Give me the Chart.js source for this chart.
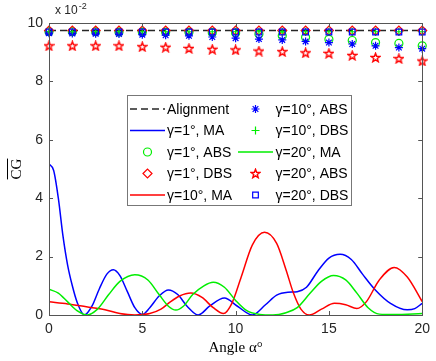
<!DOCTYPE html>
<html>
<head>
<meta charset="utf-8">
<script src="https://cdn.jsdelivr.net/npm/chart.js@4/dist/chart.umd.min.js"></script>
<style>
  html, body { margin: 0; padding: 0; background: #fff; }
  #wrap { width: 436px; height: 361px; }
</style>
</head>
<body>
<div id="wrap"><canvas id="c" width="436" height="361"></canvas></div>
<script>
// ---- data (values in units of 1e-2) ----
const markerAngles = [0, 1.25, 2.5, 3.75, 5, 6.25, 7.5, 8.75, 10, 11.25, 12.5, 13.75, 15, 16.25, 17.5, 18.75, 20];
const alignment    = [9.74, 9.74, 9.74, 9.74, 9.74, 9.74, 9.74, 9.74, 9.74, 9.74, 9.74, 9.74, 9.74, 9.74, 9.74, 9.74, 9.74];
const g1ABS  = [9.70, 9.70, 9.70, 9.69, 9.69, 9.68, 9.68, 9.67, 9.66, 9.62, 9.56, 9.51, 9.44, 9.40, 9.33, 9.30, 9.22];
const g1DBS  = [9.74, 9.74, 9.74, 9.74, 9.74, 9.74, 9.74, 9.74, 9.74, 9.74, 9.74, 9.74, 9.74, 9.74, 9.74, 9.74, 9.74];
const g10ABS = [9.65, 9.64, 9.63, 9.62, 9.60, 9.58, 9.56, 9.52, 9.48, 9.45, 9.42, 9.37, 9.33, 9.28, 9.22, 9.16, 9.12];
const g10DBS = [9.70, 9.70, 9.70, 9.70, 9.70, 9.70, 9.70, 9.70, 9.70, 9.70, 9.70, 9.70, 9.70, 9.70, 9.70, 9.70, 9.70];
const g20ABS = [9.22, 9.22, 9.22, 9.22, 9.19, 9.17, 9.13, 9.10, 9.08, 9.04, 9.02, 8.98, 8.96, 8.89, 8.82, 8.78, 8.70];
const g20DBS = [9.69, 9.69, 9.69, 9.69, 9.69, 9.69, 9.69, 9.69, 9.69, 9.69, 9.69, 9.69, 9.69, 9.69, 9.69, 9.69, 9.69];

const g1MA_x = [0, 0.25, 0.5, 0.75, 1.0, 1.25, 1.5, 1.9, 2.3, 2.7, 3.1, 3.45, 3.8, 4.2, 4.6, 5.0, 5.4, 5.9, 6.4, 6.9, 7.4, 8.0, 8.6, 9.4, 10.1, 10.9, 11.6, 12.2, 12.8, 13.3, 13.8, 14.4, 15.0, 15.6, 16.2, 16.8, 17.5, 18.3, 19.2, 19.6, 20];
const g1MA_y = [5.17, 4.95, 4.0, 2.7, 1.7, 1.0, 0.45, 0.0, 0.3, 0.9, 1.4, 1.55, 1.35, 0.8, 0.25, 0.02, 0.25, 0.65, 0.86, 0.7, 0.3, 0.0, 0.3, 0.58, 0.3, 0.0, 0.35, 0.68, 0.78, 0.8, 0.95, 1.5, 1.95, 2.08, 1.9, 1.4, 0.85, 0.4, 0.18, 0.22, 0.4];

const g10MA_x = [0, 1, 2, 3, 3.8, 4.6, 5.4, 6.0, 6.5, 7.0, 7.6, 8.2, 8.8, 9.35, 9.8, 10.3, 10.9, 11.55, 12.2, 12.7, 13.1, 13.5, 13.95, 14.6, 15.3, 15.9, 16.5, 17.0, 17.7, 18.5, 19.2, 20];
const g10MA_y = [0.45, 0.38, 0.28, 0.18, 0.05, 0.0, 0.05, 0.2, 0.45, 0.65, 0.75, 0.6, 0.25, 0.05, 0.4, 1.3, 2.4, 2.83, 2.45, 1.55, 0.75, 0.2, 0.0, 0.2, 0.4, 0.35, 0.22, 0.45, 1.2, 1.63, 1.3, 0.46];

const g20MA_x = [0, 0.5, 1.0, 1.5, 2.05, 2.6, 3.2, 3.8, 4.6, 5.3, 5.9, 6.4, 6.8, 7.2, 7.7, 8.3, 8.8, 9.4, 10.0, 10.6, 11.3, 12.0, 12.7, 13.3, 14.0, 14.6, 15.25, 15.9, 16.5, 17.1, 17.7, 18.5, 20];
const g20MA_y = [0.88, 0.75, 0.45, 0.15, 0.0, 0.2, 0.7, 1.15, 1.38, 1.2, 0.7, 0.3, 0.17, 0.3, 0.7, 1.0, 1.12, 0.95, 0.5, 0.15, 0.02, 0.0, 0.08, 0.25, 0.75, 1.15, 1.35, 1.2, 0.75, 0.25, 0.03, 0.02, 0.05];

const xTicks = [0, 5, 10, 15, 20];
const yTicks = [0, 2, 4, 6, 8, 10];

// ---- helpers ----
const zip = (xs, ys) => xs.map((x, i) => ({ x: x, y: ys[i] }));
function pentagram(color) {
  const s = 11, c = document.createElement('canvas');
  c.width = s; c.height = s;
  const g = c.getContext('2d');
  g.beginPath();
  for (let i = 0; i < 10; i++) {
    const r = i % 2 ? 1.9 : 4.6;
    const a = -Math.PI / 2 + i * Math.PI / 5;
    g.lineTo(s / 2 + r * Math.cos(a), s / 2 + 0.4 + r * Math.sin(a));
  }
  g.closePath();
  g.strokeStyle = color; g.lineWidth = 1.4; g.stroke();
  return c;
}
const starImg = pentagram('#ff0000');

function lineDS(label, pts, color, dash) {
  return { label, data: pts, borderColor: color, backgroundColor: color, borderWidth: 1.5,
    borderDash: dash || [], pointRadius: 0, showLine: true, cubicInterpolationMode: 'monotone', fill: false };
}
function markDS(label, ys, color, style, radius) {
  return { label, data: zip(markerAngles, ys), borderColor: color, backgroundColor: 'rgba(0,0,0,0)',
    borderWidth: 1.2, pointStyle: style, pointRadius: radius || 4, showLine: false, clip: false };
}

const datasets = [
  lineDS('Alignment', zip(markerAngles, alignment), '#262626', [7, 4]),
  lineDS('\u03B3=1\u00B0, MA', zip(g1MA_x, g1MA_y), '#0000ff'),
  markDS('\u03B3=1\u00B0, ABS', g1ABS, '#00ee00', 'circle', 4),
  markDS('\u03B3=1\u00B0, DBS', g1DBS, '#ff0000', 'rectRot', 4.5),
  lineDS('\u03B3=10\u00B0, MA', zip(g10MA_x, g10MA_y), '#ff0000'),
  markDS('\u03B3=10\u00B0, ABS', g10ABS, '#0000ff', 'star', 4),
  markDS('\u03B3=10\u00B0, DBS', g10DBS, '#00ee00', 'cross', 4),
  lineDS('\u03B3=20\u00B0, MA', zip(g20MA_x, g20MA_y), '#00ee00'),
  markDS('\u03B3=20\u00B0, ABS', g20ABS, '#ff0000', starImg, 5),
  markDS('\u03B3=20\u00B0, DBS', g20DBS, '#0000ff', 'rect', 4)
];
datasets.forEach((d, i) => { d.order = datasets.length - i; });

const AXC = '#262626';
const FONT = "'Liberation Sans', Arial, sans-serif";
const SERIF = "'Liberation Serif', 'DejaVu Serif', serif";

const decor = {
  id: 'decor',
  afterDraw(chart) {
    const ctx = chart.ctx, a = chart.chartArea;
    const xs = chart.scales.x, ys = chart.scales.y;
    ctx.save();
    // box
    ctx.strokeStyle = '#555';
    ctx.lineWidth = 1;
    ctx.strokeRect(Math.round(a.left) + 0.5, Math.round(a.top) + 0.5, Math.round(a.right - a.left), Math.round(a.bottom - a.top));
    // inward ticks
    ctx.beginPath();
    xTicks.forEach(v => {
      const px = Math.round(xs.getPixelForValue(v)) + 0.5;
      ctx.moveTo(px, a.bottom); ctx.lineTo(px, a.bottom - 4);
      ctx.moveTo(px, a.top); ctx.lineTo(px, a.top + 4);
    });
    yTicks.forEach(v => {
      const py = Math.round(ys.getPixelForValue(v)) + 0.5;
      ctx.moveTo(a.left, py); ctx.lineTo(a.left + 4, py);
      ctx.moveTo(a.right, py); ctx.lineTo(a.right - 4, py);
    });
    ctx.stroke();
    // exponent label
    ctx.fillStyle = AXC;
    ctx.textBaseline = 'alphabetic';
    ctx.textAlign = 'left';
    ctx.font = '12px ' + FONT;
    ctx.fillText('x 10', a.left + 6, 14);
    const w = ctx.measureText('x 10').width;
    ctx.font = '9px ' + FONT;
    ctx.fillText('-2', a.left + 6 + w + 1, 9);
    // y title with overline
    ctx.save();
    ctx.translate(16, (a.top + a.bottom) / 2);
    ctx.rotate(-Math.PI / 2);
    ctx.font = '15px ' + SERIF;
    ctx.textAlign = 'center';
    ctx.textBaseline = 'alphabetic';
    ctx.fillStyle = '#000';
    ctx.fillText('CG', 0, 5);
    const tw = ctx.measureText('CG').width;
    ctx.strokeStyle = '#000';
    ctx.lineWidth = 1;
    ctx.beginPath();
    ctx.moveTo(-tw / 2, -8.5); ctx.lineTo(tw / 2, -8.5);
    ctx.stroke();
    ctx.restore();
    // legend
    const L = { x0: 127, y0: 95, x1: 351, y1: 205 };
    ctx.fillStyle = '#fff';
    ctx.fillRect(L.x0, L.y0, L.x1 - L.x0, L.y1 - L.y0);
    ctx.strokeStyle = '#777';
    ctx.strokeRect(L.x0 + 0.5, L.y0 + 0.5, L.x1 - L.x0, L.y1 - L.y0);
    const rows = [109, 130.5, 152, 173.5, 195];
    const cols = [{ l0: 130, l1: 165, m: 147.5, t: 167 }, { l0: 238, l1: 273, m: 255.5, t: 275.5 }];
    ctx.font = '14px ' + FONT;
    ctx.textBaseline = 'middle';
    ctx.textAlign = 'left';
    chart.data.datasets.forEach((d, i) => {
      const c = cols[Math.floor(i / 5)], y = rows[i % 5];
      ctx.save();
      if (d.showLine && d.pointRadius === 0) {
        ctx.strokeStyle = d.borderColor; ctx.lineWidth = d.borderWidth;
        ctx.setLineDash(d.borderDash || []);
        ctx.beginPath(); ctx.moveTo(c.l0, y); ctx.lineTo(c.l1, y); ctx.stroke();
      } else {
        ctx.strokeStyle = d.borderColor; ctx.fillStyle = d.backgroundColor; ctx.lineWidth = d.borderWidth;
        Chart.helpers.drawPoint(ctx, { pointStyle: d.pointStyle, rotation: 0, radius: d.pointRadius, borderWidth: d.borderWidth }, c.m, y);
      }
      ctx.restore();
      ctx.fillStyle = '#000';
      ctx.fillText(d.label, c.t, y + 1);
    });
    ctx.restore();
  }
};

new Chart(document.getElementById('c'), {
  type: 'scatter',
  data: { datasets },
  options: {
    responsive: false,
    animation: false,
    devicePixelRatio: 1,
    layout: { padding: { left: 0, right: 10, top: 23, bottom: 0 } },
    plugins: { legend: { display: false }, tooltip: { enabled: false } },
    scales: {
      x: {
        type: 'linear', min: 0, max: 20,
        afterFit(s) { s.height = 46; },
        afterBuildTicks(s) { s.ticks = xTicks.map(v => ({ value: v })); },
        grid: { display: false, drawTicks: false },
        border: { display: false },
        ticks: { color: AXC, font: { family: FONT, size: 14 }, padding: 6, maxRotation: 0 },
        title: { display: true, text: 'Angle \u03B1\u00B0', color: '#000', font: { family: SERIF, size: 15 }, padding: { top: 0, bottom: 4 } }
      },
      y: {
        type: 'linear', min: 0, max: 10,
        afterFit(s) { s.width = 49; },
        afterBuildTicks(s) { s.ticks = yTicks.map(v => ({ value: v })); },
        grid: { display: false, drawTicks: false },
        border: { display: false },
        ticks: { color: AXC, font: { family: FONT, size: 14 }, padding: 6 }
      }
    }
  },
  plugins: [decor]
});
</script>
</body>
</html>
